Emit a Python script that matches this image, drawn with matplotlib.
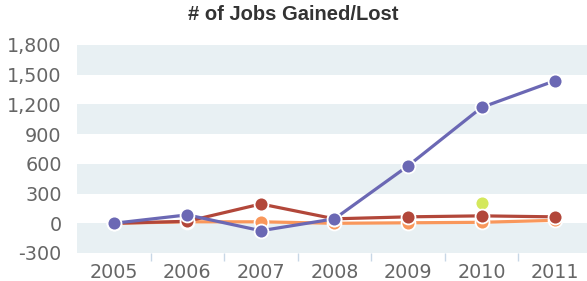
import numpy as np
import matplotlib.pyplot as plt
from matplotlib.ticker import FuncFormatter

years = ['2005', '2006', '2007', '2008', '2009', '2010', '2011']
purple = [0, 85, -75, 45, 580, 1170, 1440]
red = [0, 20, 195, 45, 65, 75, 65]
orange = [0, 15, 15, 0, 5, 10, 30]
green = [np.nan, np.nan, np.nan, np.nan, np.nan, 200, np.nan]

fig = plt.figure(figsize=(5.87, 2.81), dpi=100)
ax = fig.add_axes([77 / 587, 1 - 253 / 281, 515 / 587, 208 / 281])

# alternating horizontal bands
for lo in [-300, 300, 900, 1500]:
    ax.axhspan(lo, lo + 300, color='#E8F0F3', lw=0, zorder=0)

x = np.arange(len(years))
style = dict(lw=2.3, marker='o', ms=10, mec='white', mew=1.3)
ax.plot(x, green, color='#D4E85C', zorder=2, **style)
ax.plot(x, orange, color='#F9975B', zorder=3, **style)
ax.plot(x, red, color='#B2473A', zorder=4, **style)
ax.plot(x, purple, color='#6B68B4', zorder=5, **style)

ax.set_xlim(-0.5, len(years) - 0.5)
ax.set_ylim(-300, 1800)
ax.set_yticks(range(-300, 1801, 300))
ax.yaxis.set_major_formatter(FuncFormatter(lambda v, p: f'{int(v):,}'))
ax.set_xticks(x)
ax.set_xticklabels(years)
ax.set_xticks(x[:-1] + 0.5, minor=True)
ax.tick_params(axis='x', which='major', length=0, pad=7, labelsize=13.8, colors='#666666')
ax.tick_params(axis='x', which='minor', length=6, width=1, color='#C8D7E6')
ax.tick_params(axis='y', length=0, pad=11, labelsize=13.8, colors='#666666')
for s in ax.spines.values():
    s.set_visible(False)

fig.text(0.5, 1 - 15 / 281, '# of Jobs Gained/Lost', ha='center', va='center',
         fontsize=14.5, fontweight='bold', color='#333333', family='Liberation Sans')

fig.savefig('out.png', dpi=100)
